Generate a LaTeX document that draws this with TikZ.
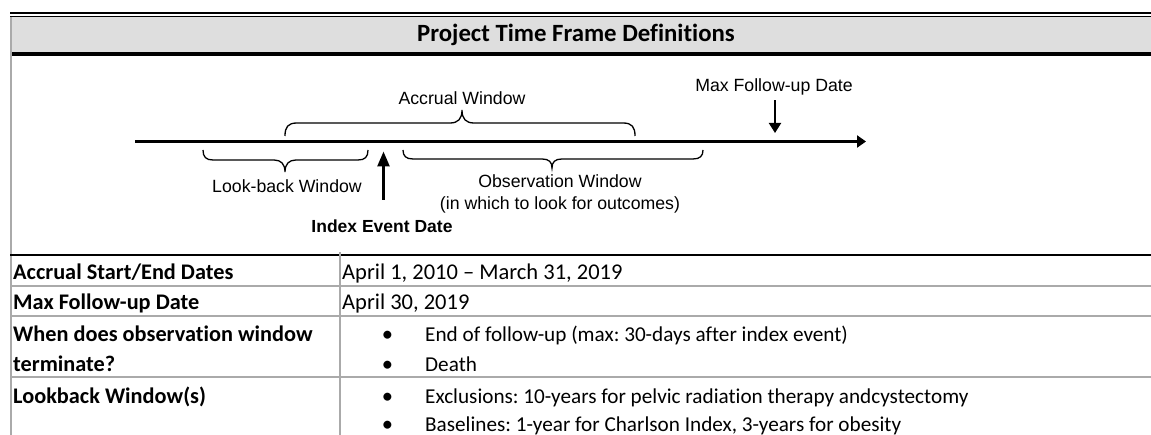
\documentclass[tikz,border=0pt]{standalone}
\usepackage{fontspec}
\setmainfont[Ligatures=NoCommon]{Carlito}
\newfontfamily\arialf{Liberation Sans}
\usetikzlibrary{arrows.meta}
\definecolor{hdrgray}{RGB}{222,222,222}
\definecolor{rulegray}{RGB}{170,170,170}
\frenchspacing
\begin{document}
\begin{tikzpicture}[x=1pt,y=-1pt,
  lbl/.style={font=\arialf\fontsize{17.7}{21.5}\selectfont, inner sep=0pt, align=center},
  lblb/.style={font=\arialf\bfseries\fontsize{17.5}{21.5}\selectfont, inner sep=0pt},
  cell/.style={font=\fontsize{22.5}{27}\selectfont, inner sep=0pt, anchor=base west},
  bcell/.style={font=\fontsize{21.2}{27}\selectfont, inner sep=0pt, anchor=base west},
  cellb/.style={font=\bfseries\fontsize{22.3}{27}\selectfont, inner sep=0pt, anchor=base west},
  bul/.style={font=\fontsize{22.5}{27}\selectfont, inner sep=0pt, anchor=base},
  bracepath/.style={line width=1.3pt},
  rowrule/.style={draw=rulegray, line width=1.8pt},
  updown/.style={line width=2.6pt, -{Triangle[length=15pt,width=12pt]}},
  downarr/.style={line width=2pt, -{Triangle[length=10pt,width=12pt]}},
  tline/.style={line width=2.6pt, -{Triangle[length=9pt,width=12pt]}}]
\useasboundingbox (0,0) rectangle (1151,435);
% header
\fill[hdrgray] (10,17) rectangle (1151,52);
\fill[black] (10,52) rectangle (1151,56);
\draw[line width=1.5pt] (10,13) -- (1151,13);
\draw[line width=1pt] (10,16.2) -- (1151,16.2);
\draw[draw=rulegray, line width=1.5pt] (11,17) -- (11,435);
\node[font=\bfseries\fontsize{24.8}{28}\selectfont, inner sep=0pt] (title) at (576,35) {Project Time Frame Definitions};
% timeline
\coordinate (tl0) at (135,141.5);
\coordinate (tl1) at (866,141.5);
\draw[tline] (tl0) -- (tl1);
% braces
\draw[bracepath] (285,136) .. controls (285,127) and (288,123) .. (297,123) -- (450,123) .. controls (458,123) and (462,119) .. (462,110) .. controls (462,119) and (466,123) .. (474,123) -- (623,123) .. controls (632,123) and (635,127) .. (635,136);
\draw[bracepath] (203,150) .. controls (203,157) and (206,160) .. (213,160) -- (274,160) .. controls (281,160) and (285,164) .. (285,172) .. controls (285,164) and (289,160) .. (296,160) -- (358,160) .. controls (365,160) and (368,157) .. (368,150);
\draw[bracepath] (403,150) .. controls (403,156) and (406,159) .. (413,159) -- (542,159) .. controls (549,159) and (552,162) .. (552,168) .. controls (552,162) and (555,159) .. (562,159) -- (693,159) .. controls (700,159) and (703,156) .. (703,150);
% labels
\node[lbl] (accrual) at (462,98) {Accrual Window};
\node[lbl] (lookback) at (287,186) {Look-back Window};
\node[lbl] (obs) at (560,194) {Observation Window\\(in which to look for outcomes)};
\node[lblb] (index) at (382,226) {Index Event Date};
\node[lbl] (maxfu) at (774,87) {Max Follow-up Date};
% arrows
\coordinate (idxtail) at (383.5,200);
\coordinate (idxtip) at (383.5,151.5);
\draw[updown] (idxtail) -- (idxtip);
\coordinate (mxtail) at (775,100.5);
\coordinate (mxtip) at (775,133);
\draw[downarr] (mxtail) -- (mxtip);
% table
\draw[line width=1.3pt] (10,255) -- (1151,255);
\draw[rowrule] (10,286) -- (1151,286);
\draw[rowrule] (10,316) -- (1151,316);
\draw[rowrule] (10,377) -- (1151,377);
\draw[rowrule] (340,252) -- (340,435);
\node[cellb] (r1a) at (13,280) {Accrual Start/End Dates};
\node[cell] (r1b) at (342,280) {April 1, 2010 – March 31, 2019};
\node[cellb] (r2a) at (13,310) {Max Follow-up Date};
\node[cell] (r2b) at (342,310) {April 30, 2019};
\node[cellb] (r3a) at (13,341.5) {When does observation window};
\node[cellb] (r3a2) at (13,371) {terminate?};
\node[bul] (b1) at (387.5,341.5) {•};
\node[bcell] (r3b1) at (425,341.5) {End of follow-up (max: 30-days after index event)};
\node[bul] (b2) at (387.5,371) {•};
\node[bcell] (r3b2) at (425,371) {Death};
\node[cellb] (r4a) at (13,403.3) {Lookback Window(s)};
\node[bul] (b3) at (387.5,403.3) {•};
\node[bcell] (r4b1) at (425,403.3) {Exclusions: 10-years for pelvic radiation therapy andcystectomy};
\node[bul] (b4) at (387.5,431) {•};
\node[bcell] (r4b2) at (425,431) {Baselines: 1-year for Charlson Index, 3-years for obesity};
\end{tikzpicture}
\end{document}
